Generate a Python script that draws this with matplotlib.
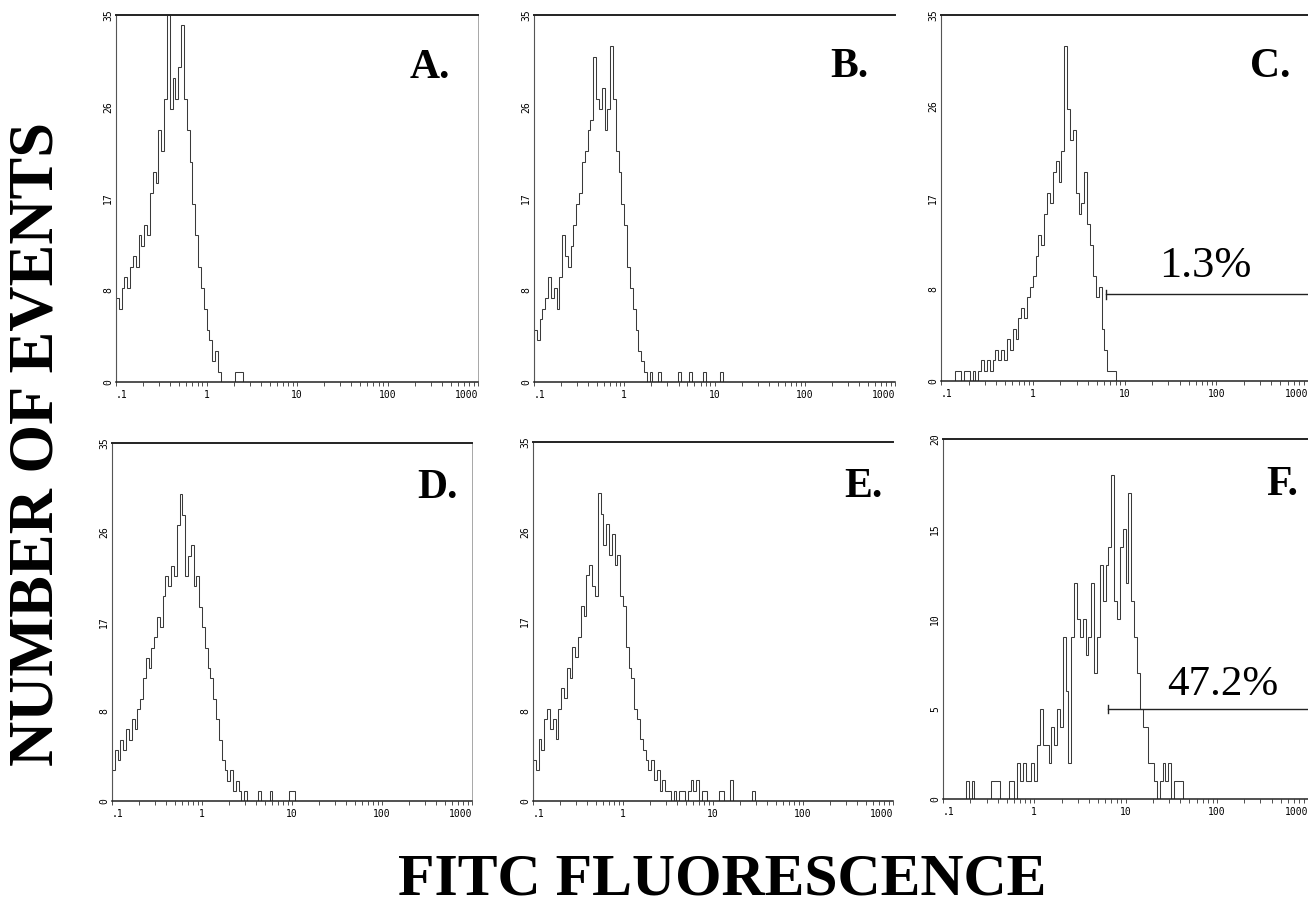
import matplotlib
matplotlib.use('Agg')
import matplotlib.pyplot as plt
import numpy as np
from matplotlib.ticker import NullFormatter

W, H = 1308, 905
CH_PER_DECADE = 32  # channels per log decade, channel 0 starts at 0.1

# histogram counts per channel
counts_a = [8, 7, 9, 10, 9, 11, 12, 11, 14, 13, 15, 14, 18, 20, 19, 24, 22, 27, 35, 26,
            29, 27, 30, 34, 27, 24, 21, 17, 14, 11, 9, 7, 5, 4, 2, 3, 1, 0, 0, 0,
            0, 0, 1, 1, 1]
counts_b = [5, 4, 6, 7, 8, 10, 8, 9, 7, 10, 14, 12, 11, 13, 15, 17, 18, 21, 22, 24,
            25, 31, 27, 26, 28, 24, 26, 32, 27, 22, 20, 17, 15, 11, 9, 7, 5, 3, 2, 1,
            0, 1, 0, 0, 1, 0, 0, 0, 0, 0, 0, 1, 0, 0, 0, 1, 0, 0, 0, 0,
            1, 0, 0, 0, 0, 0, 1]
counts_c = [0, 0, 0, 0, 0, 1, 1, 0, 1, 1, 0, 1, 0, 1, 2, 1, 2, 1, 2, 3,
            2, 3, 2, 4, 3, 5, 4, 6, 7, 6, 8, 9, 10, 12, 14, 13, 16, 18, 17, 20,
            21, 19, 22, 32, 26, 23, 24, 18, 16, 17, 20, 15, 13, 10, 8, 9, 5, 3, 1, 1,
            1]
counts_d = [3, 5, 4, 6, 5, 7, 6, 8, 7, 9, 10, 12, 14, 13, 15, 16, 18, 17, 20, 22,
            21, 23, 22, 27, 30, 28, 22, 24, 25, 21, 22, 19, 17, 15, 13, 12, 10, 8, 6, 4,
            3, 2, 3, 1, 2, 1, 0, 1, 0, 0, 0, 0, 1, 0, 0, 0, 1, 0, 0, 0,
            0, 0, 0, 1, 1]
counts_e = [4, 3, 6, 5, 8, 9, 7, 8, 6, 9, 11, 10, 13, 12, 15, 14, 16, 19, 18, 22,
            23, 21, 20, 30, 28, 25, 27, 24, 26, 23, 24, 20, 19, 15, 13, 12, 9, 8, 6, 5,
            4, 3, 4, 2, 3, 1, 2, 1, 1, 0, 1, 0, 1, 1, 0, 1, 2, 1, 2, 0,
            1, 1, 0, 0, 0, 0, 1, 1, 0, 0, 2, 0, 0, 0, 0, 0, 0, 0, 1]
counts_f = [0, 0, 0, 0, 0, 0, 0, 0, 1, 0, 1, 0, 0, 0, 0, 0, 0, 1, 1, 1,
            0, 0, 0, 1, 1, 0, 2, 1, 2, 1, 1, 2, 1, 3, 5, 3, 3, 2, 4, 3,
            5, 4, 9, 6, 2, 9, 12, 10, 9, 10, 8, 9, 12, 7, 9, 13, 11, 13, 14, 18,
            11, 10, 14, 15, 12, 17, 11, 9, 7, 5, 4, 4, 2, 2, 1, 0, 1, 2, 1, 2,
            0, 1, 1, 1]

panel_letters = ['A.', 'B.', 'C.', 'D.', 'E.', 'F.']
xtick_vals = [0.1, 1, 10, 100, 1000]
xtick_labels = ['.1', '1', '10', '100', '1000']
ytick_labels_35 = ['0', '8', '17', '26', '35']
ytick_labels_20 = ['0', '5', '10', '15', '20']

# gates: (start, end, level, label)
gate_c = (6.3, 1000, 8.3, '1.3%')
gate_f = (6.4, 1000, 5.0, '47.2%')

fig = plt.figure(figsize=(W / 100, H / 100), dpi=100)
fig.patch.set_facecolor('white')


def add_px_axes(x0, y0, x1, y1):
    return fig.add_axes([x0 / W, 1 - y1 / H, (x1 - x0) / W, (y1 - y0) / H])


def fig_text(x, y, s, **kw):
    fig.text(x / W, 1 - y / H, s, **kw)


boxes = [(116, 15, 478, 382), (534, 15, 895, 382), (941, 15, 1308, 381),
         (112, 443, 472, 801), (533, 442, 893, 801), (943, 439, 1308, 799)]
all_counts = [counts_a, counts_b, counts_c, counts_d, counts_e, counts_f]
ymaxes = [35, 35, 35, 35, 35, 20]
right_spine = [True, False, True, True, False, True]
letter_pos = [(450, 78), (868, 77), (1291, 77), (458, 498), (883, 497), (1298, 495)]

mono = 'DejaVu Sans Mono'
serif = 'Liberation Serif'

for i, box in enumerate(boxes):
    ax = add_px_axes(*box)
    c = np.array(all_counts[i], dtype=float)
    edges = 0.1 * 10 ** (np.arange(len(c) + 1) / CH_PER_DECADE)
    ax.stairs(c, edges, color='#3a3a3a', lw=0.75, baseline=0)

    ax.set_xscale('log')
    ax.set_xlim(0.1, 1000)
    ymax = ymaxes[i]
    ax.set_ylim(0, ymax)

    ax.set_xticks(xtick_vals)
    ax.set_xticklabels(xtick_labels, fontfamily=mono, fontsize=7)
    ax.xaxis.set_minor_formatter(NullFormatter())
    labs = ax.get_xticklabels()
    labs[0].set_ha('left')
    labs[-1].set_ha('right')
    ax.tick_params(axis='x', which='both', direction='out', length=3,
                   width=0.6, pad=3, color='#333333')

    ylabels = ytick_labels_20 if ymax == 20 else ytick_labels_35
    ax.set_yticks(np.linspace(0, ymax, 5))
    ax.set_yticklabels(ylabels, rotation=90, va='center', fontfamily=mono, fontsize=7)
    ax.tick_params(axis='y', length=0, pad=2)

    ax.spines['top'].set_linewidth(1.4)
    ax.spines['top'].set_color('#222222')
    ax.spines['bottom'].set_linewidth(1.1)
    ax.spines['bottom'].set_color('#222222')
    ax.spines['left'].set_linewidth(0.8)
    ax.spines['left'].set_color('#555555')
    ax.spines['right'].set_linewidth(0.6)
    ax.spines['right'].set_color('#999999')
    ax.spines['right'].set_visible(right_spine[i])

    lx, ly = letter_pos[i]
    fig_text(lx, ly, panel_letters[i], ha='right', va='baseline',
             fontfamily=serif, fontweight='bold', fontsize=30)

    gate = gate_c if i == 2 else gate_f if i == 5 else None
    if gate is not None:
        g0, g1, lvl, txt = gate
        ax.plot([g0, g1], [lvl, lvl], color='#222222', lw=1.0)
        ax.plot([g0, g0], [lvl - ymax * 0.012, lvl + ymax * 0.012], color='#222222', lw=1.0)

fig_text(1205, 277, gate_c[3], ha='center', va='baseline', fontfamily=serif, fontsize=32)
fig_text(1223, 695, gate_f[3], ha='center', va='baseline', fontfamily=serif, fontsize=31)

fig_text(38, 444, 'NUMBER OF EVENTS', rotation=90, ha='center', va='center',
         fontfamily=serif, fontweight='bold', fontsize=45)
fig_text(722, 880, 'FITC FLUORESCENCE', ha='center', va='center',
         fontfamily=serif, fontweight='bold', fontsize=43)

fig.savefig('out.png', dpi=100, facecolor='white')
